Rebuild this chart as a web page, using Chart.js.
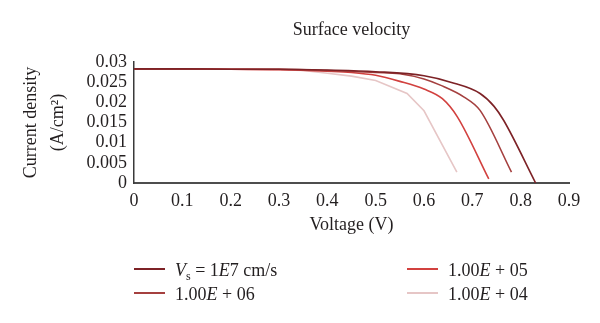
<!DOCTYPE html>
<html>
<head>
<meta charset="utf-8">
<script src="https://cdn.jsdelivr.net/npm/chart.js@4.4.0/dist/chart.umd.min.js"></script>
<style>
	html, body { margin: 0; padding: 0; background: #fff; }
</style>
</head>
<body>
<canvas id="graph-canvas" width="600" height="323"></canvas>
<script>
// Te dhenat: voltage (V) and current density (A/cm2) for each surface velocity
var chartTitle = 'Surface velocity';
var seriesNames = ['Vs = 1E7 cm/s', '1.00E + 06', '1.00E + 05', '1.00E + 04'];

var voltage1E7 = [0, 0.1, 0.2, 0.3, 0.4, 0.5, 0.6, 0.655, 0.716, 0.745, 0.765, 0.831];
var current1E7 = [0.0283, 0.0283, 0.0282, 0.0282, 0.0280, 0.0276, 0.0266, 0.0250, 0.0222, 0.0190, 0.0155, 0.0000];

var voltage1E6 = [0, 0.1, 0.2, 0.3, 0.4, 0.5, 0.55, 0.6, 0.635, 0.683, 0.716, 0.781];
var current1E6 = [0.0283, 0.0283, 0.0282, 0.0282, 0.0279, 0.0274, 0.0271, 0.0258, 0.0242, 0.0213, 0.0180, 0.0027];

var voltage1E5 = [0, 0.1, 0.2, 0.3, 0.4, 0.45, 0.5, 0.55, 0.6, 0.638, 0.669, 0.734];
var current1E5 = [0.0283, 0.0283, 0.0282, 0.0281, 0.0277, 0.0274, 0.0267, 0.0252, 0.0233, 0.0209, 0.0164, 0.0010];

var voltage1E4 = [0, 0.1, 0.2, 0.3, 0.35, 0.4, 0.45, 0.5, 0.565, 0.6, 0.668];
var current1E4 = [0.0283, 0.0283, 0.0282, 0.0281, 0.0279, 0.0272, 0.0265, 0.0254, 0.0222, 0.0179, 0.0027];

var xTicks = [0, 0.1, 0.2, 0.3, 0.4, 0.5, 0.6, 0.7, 0.8, 0.9];
var yTicks = [0, 0.005, 0.01, 0.015, 0.02, 0.025, 0.03];

var colors = ['#7d2226', '#a5403f', '#d2413f', '#e6c6c6'];

// legend text with italics and subscript
var legendParts = [
	[{t: 'V', it: true}, {t: 's', sub: true}, {t: ' = 1'}, {t: 'E', it: true}, {t: '7 cm/s'}],
	[{t: '1.00'}, {t: 'E', it: true}, {t: ' + 06'}],
	[{t: '1.00'}, {t: 'E', it: true}, {t: ' + 05'}],
	[{t: '1.00'}, {t: 'E', it: true}, {t: ' + 04'}]
];

var fontFam = '"Liberation Serif", "DejaVu Serif", serif';
var fontSize = 18;
var textCol = '#231f20';

function toPoints(xs, ys) {
	var pts = [];
	for (var i in xs) {
		pts.push({x: xs[i], y: ys[i]});
	}
	return pts;
}

var allX = [voltage1E7, voltage1E6, voltage1E5, voltage1E4];
var allY = [current1E7, current1E6, current1E5, current1E4];

var datasets = [];
for (var i = 0; i < seriesNames.length; i++) {
	datasets.push({
		label: seriesNames[i],
		data: toPoints(allX[i], allY[i]),
		borderColor: colors[i],
		backgroundColor: colors[i],
		borderWidth: 1.6,
		pointRadius: 0,
		showLine: true,
		// the lightest curve keeps its corners, the others are smoothed
		cubicInterpolationMode: i < 3 ? 'monotone' : 'default',
		tension: 0
	});
}

// title centred over the plot area + legend with rich text
var extras = {
	id: 'extras',
	afterDraw: function(chart) {
		var ctx = chart.ctx;
		var area = chart.chartArea;
		ctx.save();
		ctx.fillStyle = textCol;
		ctx.font = fontSize + 'px ' + fontFam;
		ctx.textAlign = 'center';
		ctx.textBaseline = 'middle';
		ctx.fillText(chartTitle, (area.left + area.right) / 2, 30);
		ctx.restore();

		var left = area.left;
		var slots = [[left, 269], [left, 293], [left + 273, 269], [left + 273, 293]];
		chart.data.datasets.forEach(function(ds, i) {
			var x = slots[i][0], y = slots[i][1];
			ctx.save();
			ctx.strokeStyle = ds.borderColor;
			ctx.lineWidth = 2;
			ctx.beginPath();
			ctx.moveTo(x, y);
			ctx.lineTo(x + 31, y);
			ctx.stroke();
			var tx = x + 41;
			ctx.fillStyle = textCol;
			ctx.textBaseline = 'alphabetic';
			legendParts[i].forEach(function(p) {
				var size = p.sub ? 12 : fontSize;
				ctx.font = (p.it ? 'italic ' : '') + size + 'px ' + fontFam;
				ctx.fillText(p.t, tx, y + 7 + (p.sub ? 4 : 0));
				tx += ctx.measureText(p.t).width;
			});
			ctx.restore();
		});
	}
};

var ctx = document.getElementById('graph-canvas');

var lineGraph = new Chart(ctx, {
	type: 'scatter',
	data: { datasets: datasets },
	plugins: [extras],
	options: {
		responsive: false,
		animation: false,
		layout: { padding: { left: 0, right: 31, top: 62, bottom: 80 } },
		plugins: {
			legend: { display: false },
			tooltip: { enabled: false },
			title: { display: false }
		},
		scales: {
			x: {
				type: 'linear',
				min: 0,
				max: 0.9,
				afterBuildTicks: function(s) { s.ticks = xTicks.map(function(v) { return {value: v}; }); },
				afterFit: function(s) { s.height = 60; },
				ticks: {
					color: textCol,
					padding: 7,
					autoSkip: false,
					maxRotation: 0,
					font: { family: fontFam, size: fontSize },
					callback: function(v) { return String(+v.toFixed(1)); }
				},
				grid: { display: false, drawTicks: false },
				border: { display: true, color: '#4d4d4d', width: 2 },
				title: {
					display: true,
					text: 'Voltage (V)',
					color: textCol,
					font: { family: fontFam, size: fontSize },
					padding: { top: 0, bottom: 7 }
				}
			},
			y: {
				min: 0,
				max: 0.03,
				afterBuildTicks: function(s) { s.ticks = yTicks.map(function(v) { return {value: v}; }); },
				afterFit: function(s) { s.width = 134; },
				ticks: {
					color: textCol,
					padding: 7,
					autoSkip: false,
					font: { family: fontFam, size: fontSize },
					callback: function(v) { return String(+v.toFixed(3)); }
				},
				grid: { display: false, drawTicks: false },
				border: { display: true, color: '#3a3a3a', width: 1.5 },
				title: {
					display: true,
					text: ['Current density', '(A/cm\u00b2)'],
					color: textCol,
					font: { family: fontFam, size: fontSize, lineHeight: 1.5 },
					padding: { top: 18, bottom: 0 }
				}
			}
		}
	}
});
</script>
</body>
</html>
